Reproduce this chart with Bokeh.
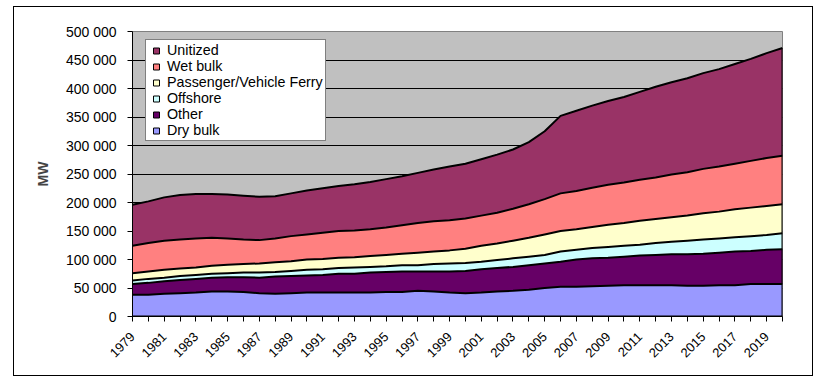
import numpy as np
from math import pi
from bokeh.plotting import figure
from bokeh.models import (ColumnDataSource, FixedTicker, CustomJSTickFormatter,
                          Legend, LegendItem, Range1d)
from bokeh.embed import file_html
from bokeh.resources import INLINE

years = list(range(1979, 2021))

dry_bulk = [38, 38, 40, 41, 42, 44, 44, 43, 41, 40, 41, 42, 42, 42, 42, 42, 43, 43, 45, 44, 42,
            41, 42, 44, 45, 47, 50, 52, 52, 53, 54, 55, 55, 55, 55, 54, 54, 55, 55, 57, 57, 57]
other = [19, 21, 22, 23, 24, 24, 25, 26, 27, 30, 30, 30, 31, 33, 33, 35, 35, 36, 34, 35, 37,
         39, 41, 41, 42, 43, 43, 44, 48, 49, 49, 50, 52, 53, 54, 55, 56, 57, 59, 58, 60, 61]
offshore = [6, 7, 6, 7, 7, 7, 7, 8, 9, 8, 9, 10, 10, 10, 11, 10, 10, 11, 11, 13, 14,
            14, 13, 14, 15, 15, 15, 18, 17, 18, 19, 19, 19, 21, 22, 24, 25, 25, 25, 26, 26, 28]
passenger = [13, 13, 14, 13, 13, 14, 15, 15, 16, 17, 17, 18, 18, 18, 18, 19, 20, 20, 22, 22, 23,
             25, 28, 29, 31, 33, 36, 36, 36, 37, 39, 40, 42, 42, 43, 44, 46, 47, 49, 50, 51, 51]
wet_bulk = [48, 50, 51, 51, 51, 49, 46, 43, 41, 42, 44, 44, 46, 47, 47, 47, 48, 50, 52, 53, 53,
            53, 53, 54, 56, 59, 62, 66, 67, 69, 70, 71, 72, 73, 75, 76, 78, 79, 80, 82, 84, 85]
unitized = [72, 73, 76, 78, 78, 77, 77, 77, 76, 74, 75, 77, 78, 79, 81, 83, 85, 86, 88, 91, 94,
            96, 99, 102, 104, 109, 119, 136, 141, 144, 147, 150, 154, 159, 162, 165, 168, 171,
            175, 179, 184, 189]

series_names = ["Dry bulk", "Other", "Offshore", "Passenger/Vehicle Ferry", "Wet bulk", "Unitized"]
series_keys = ["dry", "other", "offshore", "passenger", "wet", "unitized"]
series_vals = [dry_bulk, other, offshore, passenger, wet_bulk, unitized]
colors = ["#9999FF", "#660066", "#CCFFFF", "#FFFFCC", "#FF8080", "#993366"]
y_ticks = list(range(0, 500001, 50000))

FONT = "Liberation Sans"

data = {"year": years}
for k, v in zip(series_keys, series_vals):
    data[k] = [x * 1000 for x in v]
source = ColumnDataSource(data)

p = figure(frame_width=650, frame_height=285, output_backend="svg", toolbar_location=None,
           x_range=Range1d(years[0], years[-1]), y_range=Range1d(0, 500000),
           min_border_left=118, min_border_right=30, min_border_top=24, min_border_bottom=59)
p.margin = (6, 0, 0, 13)
p.styles = {"border": "1px solid black"}
p.background_fill_color = "#C0C0C0"
p.border_fill_color = "white"
p.outline_line_color = "#808080"

p.varea_stack(stackers=series_keys, x="year", color=colors, source=source)

cum = np.cumsum(np.array([data[k] for k in series_keys]), axis=0)
p.line(years, [0] * len(years), line_color="black", line_width=2)
for row in cum:
    p.line(years, row, line_color="black", line_width=2)
p.segment(x0=[years[-1]], y0=[0], x1=[years[-1]], y1=[cum[-1][-1]], line_color="black", line_width=2)

# legend proxies
items = []
for name, col in reversed(list(zip(series_names, colors))):
    r = p.scatter(x=[np.nan], y=[np.nan], marker="square", size=7, fill_color=col,
                  line_color="black", line_width=1)
    items.append(LegendItem(label=name, renderers=[r]))
legend = Legend(items=items, location=(13, 175), orientation="vertical")
legend.label_text_font = FONT
legend.label_text_font_size = "14.3px"
legend.label_text_color = "black"
legend.label_height = 15
legend.glyph_height = 15
legend.glyph_width = 16
legend.label_standoff = 3
legend.spacing = 0
legend.padding = 2
legend.margin = 0
legend.border_line_color = "black"
legend.border_line_width = 1
legend.background_fill_color = "white"
legend.background_fill_alpha = 1
p.add_layout(legend, "center")

# grid
p.xgrid.visible = False
p.ygrid.ticker = FixedTicker(ticks=y_ticks)
p.ygrid.grid_line_color = "black"
p.ygrid.grid_line_width = 1

# y axis
p.yaxis.ticker = FixedTicker(ticks=y_ticks)
p.yaxis.formatter = CustomJSTickFormatter(code="return tick === 0 ? '0' : (tick/1000).toFixed(0) + ' 000';")
p.yaxis.axis_label = "MW"
p.yaxis.axis_label_text_font = FONT
p.yaxis.axis_label_text_font_size = "14px"
p.yaxis.axis_label_text_font_style = "bold"
p.yaxis.axis_label_standoff = 12
p.yaxis.major_label_standoff = 11
p.yaxis.major_label_text_font = FONT
p.yaxis.major_label_text_font_size = "14px"
p.yaxis.major_label_text_color = "black"

# x axis: tick at every year, label every second year
p.xaxis.ticker = FixedTicker(ticks=years)
p.xaxis.formatter = CustomJSTickFormatter(code="return ((tick - 1979) % 2 === 0) ? String(tick) : '';")
p.xaxis.major_label_orientation = pi / 4
p.xaxis.major_label_standoff = 13
p.xaxis.major_label_text_font = FONT
p.xaxis.major_label_text_font_size = "13px"
p.xaxis.major_label_text_color = "black"

for ax in (p.xaxis[0], p.yaxis[0]):
    ax.axis_line_color = "black"
    ax.axis_line_width = 1
    ax.major_tick_line_color = "black"
    ax.major_tick_out = 5
    ax.major_tick_in = 0
    ax.minor_tick_line_color = None

open("out.html", "w").write(file_html(p, INLINE))
